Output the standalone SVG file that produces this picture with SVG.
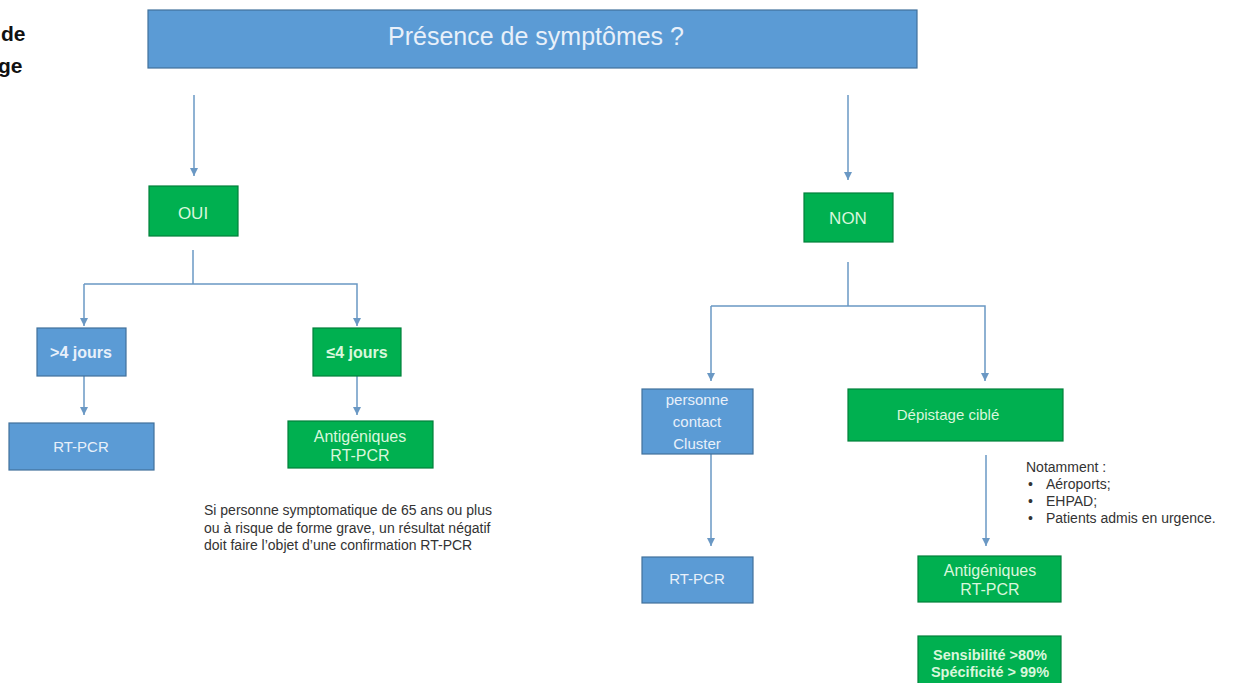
<svg xmlns="http://www.w3.org/2000/svg" width="1239" height="683" viewBox="0 0 1239 683">
<defs>
<style>
.blue{fill:#5b9bd5;stroke:#41719c;stroke-width:1.2}
.green{fill:#00b050;stroke:#00803a;stroke-width:1.2}
.tb{font-family:"Liberation Sans",Arial,sans-serif;fill:#e8f0fa;text-anchor:middle}
.tg{font-family:"Liberation Sans",Arial,sans-serif;fill:#d9f7dc;text-anchor:middle}
.note{font-family:"Liberation Sans",Arial,sans-serif;fill:#333;font-size:14px}
.conn{stroke:#6a98c4;stroke-width:1.5;fill:none}
</style>
<marker id="ah" viewBox="0 0 10 10" refX="10" refY="5" markerWidth="8" markerHeight="8" markerUnits="userSpaceOnUse" orient="auto">
<path d="M0,0 L10,5 L0,10 z" fill="#6a98c4"/>
</marker>
</defs>
<rect width="1239" height="683" fill="#ffffff"/>
<g id="title-fragment" font-family="'Liberation Sans',Arial,sans-serif" font-weight="bold" font-size="21" fill="#111">
<text x="1" y="41">de</text>
<text x="-2" y="73">ge</text>
</g>
<g id="connectors">
<line class="conn" x1="194" y1="95" x2="194" y2="176" marker-end="url(#ah)"/>
<polyline class="conn" points="193,250 193,284"/>
<polyline class="conn" points="84,284 357,284 357,326" marker-end="url(#ah)"/>
<line class="conn" x1="84" y1="284" x2="84" y2="326" marker-end="url(#ah)"/>
<line class="conn" x1="84" y1="376" x2="84" y2="415" marker-end="url(#ah)"/>
<line class="conn" x1="357" y1="376" x2="357" y2="415" marker-end="url(#ah)"/>
<line class="conn" x1="848" y1="95" x2="848" y2="180" marker-end="url(#ah)"/>
<polyline class="conn" points="848,262 848,306"/>
<polyline class="conn" points="711,306 985,306 985,381" marker-end="url(#ah)"/>
<line class="conn" x1="711" y1="306" x2="711" y2="381" marker-end="url(#ah)"/>
<line class="conn" x1="711" y1="454" x2="711" y2="546" marker-end="url(#ah)"/>
<line class="conn" x1="986" y1="455" x2="986" y2="546" marker-end="url(#ah)"/>
</g>
<g id="n-presence">
<rect class="blue" x="148" y="10" width="769" height="58"/>
<text class="tb" x="536" y="45" font-size="25">Présence de symptômes ?</text>
</g>
<g id="n-oui">
<rect class="green" x="149" y="186" width="89" height="50"/>
<text class="tg" x="193" y="219" font-size="17">OUI</text>
</g>
<g id="n-non">
<rect class="green" x="804" y="193" width="89" height="49"/>
<text class="tg" x="848" y="224" font-size="17">NON</text>
</g>
<g id="n-plus4">
<rect class="blue" x="37" y="328" width="89" height="48"/>
<text class="tb" x="81" y="358" font-size="16" font-weight="bold">&gt;4 jours</text>
</g>
<g id="n-moins4">
<rect class="green" x="313" y="328" width="88" height="48"/>
<text class="tg" x="357" y="358" font-size="16" font-weight="bold">≤4 jours</text>
</g>
<g id="n-rtpcr1">
<rect class="blue" x="9" y="423" width="145" height="47"/>
<text class="tb" x="81" y="452" font-size="15">RT-PCR</text>
</g>
<g id="n-antig1">
<rect class="green" x="288" y="421" width="145" height="47"/>
<text class="tg" x="360" y="442" font-size="16">Antigéniques</text>
<text class="tg" x="360" y="461" font-size="16">RT-PCR</text>
</g>
<g id="note-65">
<text class="note" x="204" y="515">Si personne symptomatique de 65 ans ou plus</text>
<text class="note" x="204" y="533">ou à risque de forme grave, un résultat négatif</text>
<text class="note" x="204" y="550">doit faire l’objet d’une confirmation RT-PCR</text>
</g>
<g id="n-contact">
<rect class="blue" x="642" y="389" width="111" height="65"/>
<text class="tb" x="697" y="405" font-size="15">personne</text>
<text class="tb" x="697" y="427" font-size="15">contact</text>
<text class="tb" x="697" y="449" font-size="15">Cluster</text>
</g>
<g id="n-depistage">
<rect class="green" x="848" y="389" width="215" height="52"/>
<text class="tg" x="948" y="420" font-size="15">Dépistage ciblé</text>
</g>
<g id="n-rtpcr2">
<rect class="blue" x="642" y="557" width="111" height="46"/>
<text class="tb" x="697" y="584" font-size="15">RT-PCR</text>
</g>
<g id="note-notamment" class="note" font-size="14.5">
<text x="1026" y="472">Notamment :</text>
<text x="1028" y="489">•</text><text x="1046" y="489">Aéroports;</text>
<text x="1028" y="506">•</text><text x="1046" y="506">EHPAD;</text>
<text x="1028" y="523">•</text><text x="1046" y="523">Patients admis en urgence.</text>
</g>
<g id="n-antig2">
<rect class="green" x="918" y="556" width="143" height="46"/>
<text class="tg" x="990" y="576" font-size="16">Antigéniques</text>
<text class="tg" x="990" y="595" font-size="16">RT-PCR</text>
</g>
<g id="n-sensibilite">
<rect class="green" x="918" y="636" width="143" height="48"/>
<text class="tg" x="990" y="660" font-size="14.5" font-weight="bold" fill="#f0fff0">Sensibilité &gt;80%</text>
<text class="tg" x="990" y="677" font-size="14.5" font-weight="bold" fill="#f0fff0">Spécificité &gt; 99%</text>
</g>
</svg>
